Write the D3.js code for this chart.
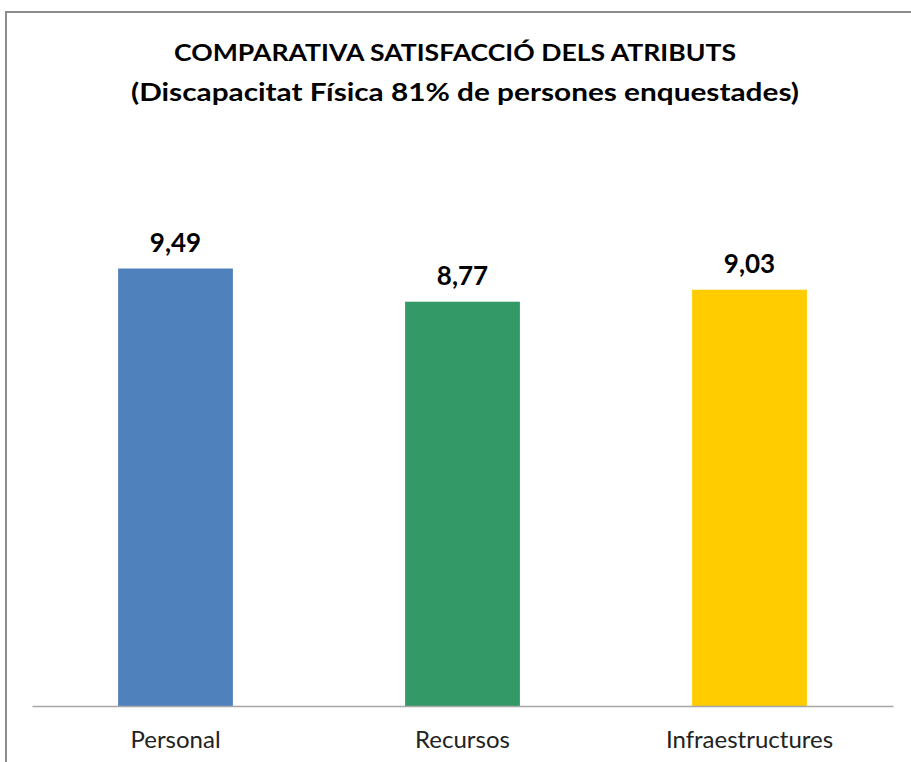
<!DOCTYPE html>
<html>
<head>
<meta charset="utf-8">
<script src="https://cdn.jsdelivr.net/npm/d3@7"></script>
<style>
  body { margin: 0; background: #fff; }
  text { font-family: Lato, "Open Sans", sans-serif; }
</style>
</head>
<body>
<div class="chart"></div>
<script>
const categories = ["Personal", "Recursos", "Infraestructures"];
const values = [9.49, 8.77, 9.03];
const colors = ["#4f81bd", "#339966", "#ffcc00"];
const titleLines = [
  "COMPARATIVA SATISFACCIÓ DELS ATRIBUTS",
  "(Discapacitat Física 81% de persones enquestades)"
];

const w = 911;
const h = 762;

const svg = d3.select(".chart")
  .append("svg")
  .attr("width", w)
  .attr("height", h);

// chart frame (cropped on right and bottom)
svg.append("path")
  .attr("d", `M6,${h} L6,12 L${w},12`)
  .attr("fill", "none")
  .attr("stroke", "#8c8c8c")
  .attr("stroke-width", 2);

// title, stretched to the width of the original
const titleWidths = [562, 668];
const titleX = [455, 465];
svg.selectAll(".title")
  .data(titleLines)
  .enter()
  .append("text")
  .attr("class", "title")
  .attr("x", (d, i) => titleX[i])
  .attr("y", (d, i) => 61 + i * 40)
  .attr("text-anchor", "middle")
  .attr("font-size", (d, i) => i === 0 ? 23 : 25)
  .attr("font-weight", "bold")
  .attr("fill", "#000")
  .attr("textLength", (d, i) => titleWidths[i])
  .attr("lengthAdjust", "spacingAndGlyphs")
  .text(d => d);

const margin = { top: 245, left: 32, right: 18, bottom: 56 };
const graphHeight = h - margin.top - margin.bottom;

const x = d3.scaleBand()
  .domain(categories)
  .range([margin.left, w - margin.right])
  .paddingInner(0.6)
  .paddingOuter(0.3);

const y = d3.scaleLinear()
  .domain([0, 10])
  .range([margin.top + graphHeight, margin.top]);

const data = categories.map((c, i) => ({ cat: c, value: values[i], color: colors[i] }));

const fmt = d3.formatLocale({ decimal: ",", thousands: ".", grouping: [3], currency: ["", "€"] }).format(".2f");

// bars
svg.selectAll("rect.bar")
  .data(data)
  .enter()
  .append("rect")
  .attr("class", "bar")
  .attr("x", d => x(d.cat))
  .attr("y", d => y(d.value))
  .attr("width", x.bandwidth())
  .attr("height", d => y(0) - y(d.value))
  .attr("fill", d => d.color);

// value labels
svg.selectAll("text.val")
  .data(data)
  .enter()
  .append("text")
  .attr("class", "val")
  .attr("x", d => x(d.cat) + x.bandwidth() / 2)
  .attr("y", d => y(d.value) - 17)
  .attr("text-anchor", "middle")
  .attr("font-size", 26)
  .attr("font-weight", "bold")
  .attr("fill", "#000")
  .text(d => fmt(d.value));

// x axis
const xAxis = d3.axisBottom(x).tickSize(0).tickPadding(25);
const xAxisGroup = svg.append("g")
  .attr("transform", `translate(0, ${y(0)})`)
  .call(xAxis);
xAxisGroup.select(".domain").attr("stroke", "#a6a6a6").attr("stroke-width", 1.5);
xAxisGroup.selectAll("text")
  .attr("font-size", 24)
  .attr("fill", "#222")
  .style("font-family", "Lato, 'Open Sans', sans-serif");
</script>
</body>
</html>
